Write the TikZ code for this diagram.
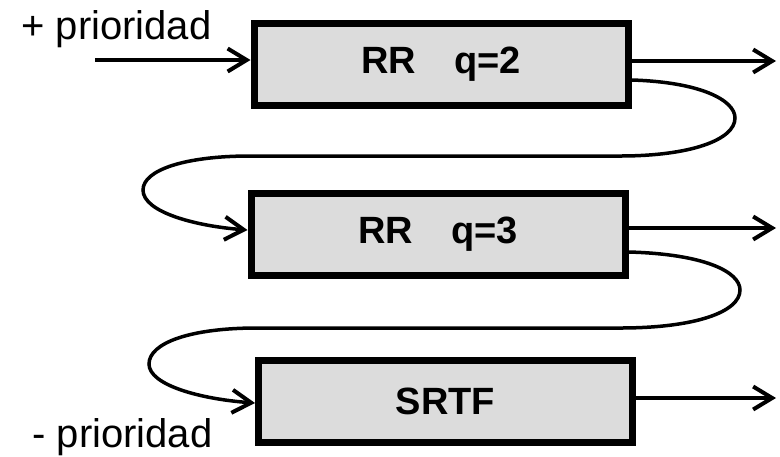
\documentclass[tikz,border=0pt]{standalone}
\usepackage{fontspec}
\setmainfont{Liberation Sans}
\usetikzlibrary{arrows.meta}
\definecolor{boxgray}{HTML}{DCDCDC}
\begin{document}
\begin{tikzpicture}[x=0.5pt,y=-0.5pt,font=\fontsize{20}{24}\selectfont,
  queue/.style={draw,line width=3.5pt,fill=boxgray,minimum width=187pt,minimum height=41pt,font=\fontsize{19}{22}\selectfont\bfseries},
  flow/.style={line width=1.75pt,-{Straight Barb[length=9.5pt,width=11.5pt,line width=2pt]}}]
\useasboundingbox (0,0) rectangle (780,456);
\node[queue] (q1) at (441,64.5) {RR\quad q=2};
\node[queue] (q2) at (438,234) {RR\quad q=3};
\node[queue] (q3) at (445.5,401.5) {SRTF};
\node[anchor=base west,inner sep=0] (hi) at (21,39) {+ prioridad};
\node[anchor=base west,inner sep=0] (lo) at (32,447) {- prioridad};
\coordinate (in) at (95,60);
\draw[flow] (in) -- (in -| q1.west);
\foreach \q/\y in {q1/61,q2/228,q3/398}{
\coordinate (out) at (776,\y);
\draw[flow] (\q.east |- out) -- (out);
}
% lower priority feedback
\draw[flow] (q1.east |- 0,80) .. controls (700,82) and (735,100) .. (735,118)
  .. controls (735,140) and (690,156) .. (620,156) -- (250,156)
  .. controls (185,156) and (143,170) .. (143,190)
  .. controls (143,212) and (195,226) .. (q2.west |- 0,230);
\draw[flow] (q2.east |- 0,252) .. controls (705,254) and (740,272) .. (740,290)
  .. controls (740,312) and (695,328) .. (620,328) -- (257,328)
  .. controls (190,328) and (149,343) .. (149,364)
  .. controls (149,385) and (200,399) .. (q3.west |- 0,403);
\end{tikzpicture}
\end{document}
